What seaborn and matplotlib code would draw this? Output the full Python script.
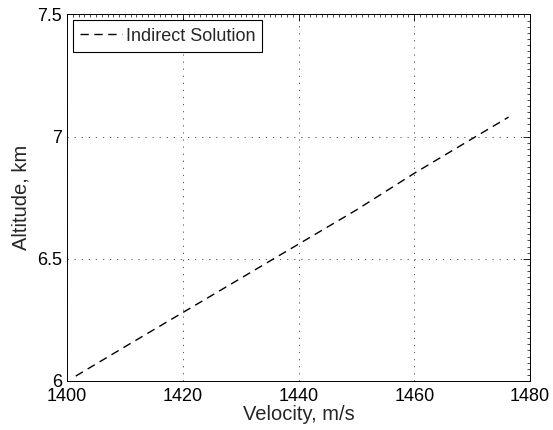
import matplotlib
matplotlib.use("Agg")
import matplotlib.pyplot as plt
from matplotlib.ticker import MultipleLocator
import seaborn as sns
import pandas as pd

velocity = [1401.5, 1410, 1420, 1430, 1435.7, 1440, 1450, 1460, 1470.6, 1476.3]
altitude = [6.02, 6.14, 6.28, 6.42, 6.50, 6.56, 6.70, 6.85, 7.00, 7.08]
series_name = "Indirect Solution"
x_ticks = [1400, 1420, 1440, 1460, 1480]
y_ticks = [6, 6.5, 7, 7.5]
y_tick_labels = ["6", "6.5", "7", "7.5"]

df = pd.DataFrame({"Velocity": velocity, "Altitude": altitude, "Series": series_name})

sns.set_style("white")
plt.rcParams['font.family'] = ['Liberation Sans', 'DejaVu Sans']

fig = plt.figure(figsize=(5.53, 4.30), dpi=100)
ax = fig.add_axes([0.1212, 0.114, 0.8372, 0.8523])

sns.lineplot(data=df, x="Velocity", y="Altitude", ax=ax, color="black",
             linewidth=1.0, label=series_name, sort=False)
ax.lines[0].set_dashes((6, 4))

ax.set_xlim(1400, 1480)
ax.set_ylim(6, 7.5)
ax.set_xticks(x_ticks)
ax.set_yticks(y_ticks)
ax.set_yticklabels(y_tick_labels)
ax.xaxis.set_minor_locator(MultipleLocator(1))
ax.yaxis.set_minor_locator(MultipleLocator(0.025))

ax.grid(True, which="major", color="0.25", linestyle=(0, (1.5, 7)), linewidth=0.6)
ax.tick_params(which="both", direction="in", top=True, right=True, colors="black",
               labelsize=13)
ax.tick_params(which="major", length=5, width=0.6)
ax.tick_params(which="minor", length=2.5, width=0.5)
ax.tick_params(axis="x", which="major", pad=5)
ax.tick_params(axis="y", which="major", pad=3.6)
for s in ax.spines.values():
    s.set_color("black")
    s.set_linewidth(0.7)

ax.set_xlabel("Velocity, m/s", fontsize=14.5, labelpad=0)
ax.set_ylabel("Altitude, km", fontsize=14.5, labelpad=5)

leg = ax.legend(loc="upper left", frameon=True, fancybox=False, fontsize=13,
                handlelength=2.3, handletextpad=0.22, borderpad=0.4,
                borderaxespad=0.33)
leg.get_frame().set_edgecolor("black")
leg.get_frame().set_linewidth(0.8)
leg.get_frame().set_alpha(1)

fig.savefig("out.png", dpi=100)
